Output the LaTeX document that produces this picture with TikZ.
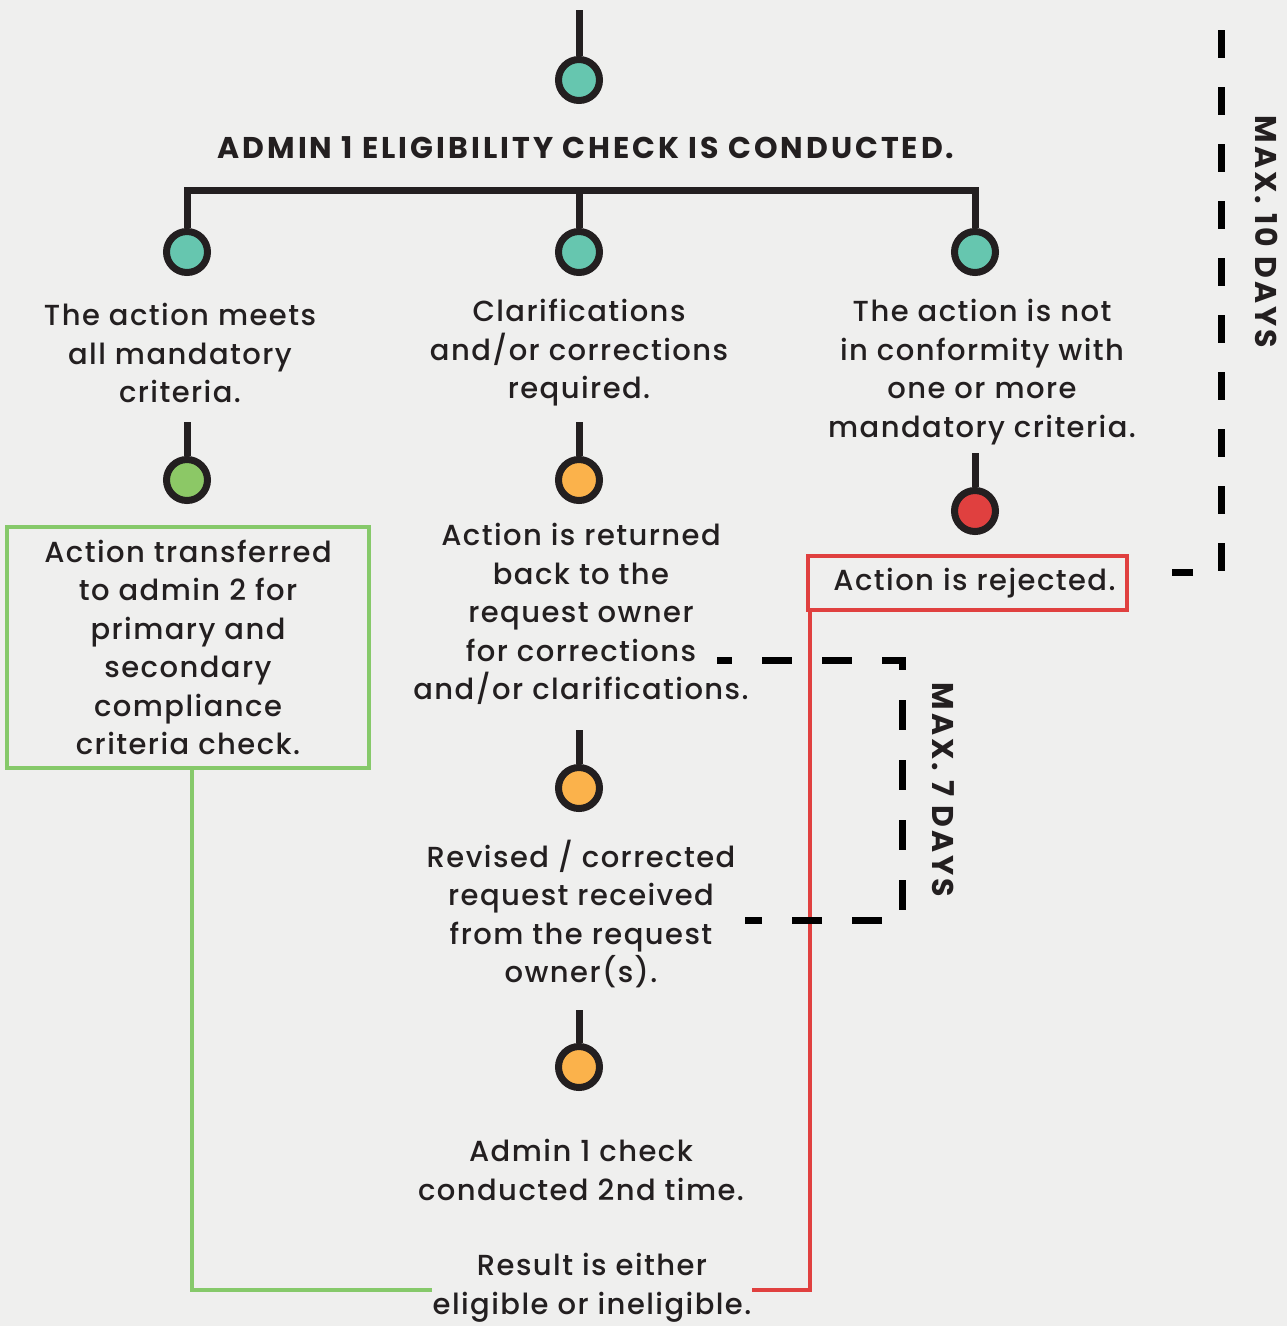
\documentclass[tikz,border=0pt]{standalone}
\usepackage{fontspec}
\IfFontExistsTF{Poppins Medium}{%
  \setmainfont{Poppins}[UprightFont=* Medium,BoldFont=* Bold,LetterSpace=5]%
  \newfontfamily\headfont{Poppins}[UprightFont=* Bold,LetterSpace=10]%
}{%
  \setmainfont{Poppins}[LetterSpace=5]%
  \newfontfamily\headfont{Poppins}[UprightFont=* Bold,LetterSpace=10]%
}
\definecolor{ink}{HTML}{231F20}
\definecolor{paper}{HTML}{EFEFEE}
\definecolor{teal}{HTML}{66C6AF}
\definecolor{leaf}{HTML}{8CC866}
\definecolor{amber}{HTML}{FBB24B}
\definecolor{alert}{HTML}{E0403F}
\definecolor{gline}{HTML}{86C96A}
\begin{document}
\begin{tikzpicture}[x=1pt,y=-1pt,
  dot/.style={circle,draw=ink,line width=7pt,minimum size=41pt,inner sep=0pt},
  stem/.style={draw=ink,line width=7pt},
  body/.style={align=center,inner sep=0pt,text=ink,font=\fontsize{29}{38.5}\selectfont},
  head/.style={inner sep=0pt,text=ink,font=\fontsize{30}{34}\selectfont\headfont},
  dashline/.style={draw=black,line width=7pt,dash pattern=on 30pt off 30pt},
  gbox/.style={draw=gline,line width=4pt,minimum width=362pt,minimum height=241pt,inner sep=0pt},
  rbox/.style={draw=alert,line width=4pt,minimum width=319pt,minimum height=54pt,inner sep=0pt}]
\fill[paper] (0,0) rectangle (1287,1326);
\useasboundingbox (0,0) rectangle (1287,1326);
% top
\coordinate (top) at (579,10);
\node[dot,fill=teal] (c0) at (579,80) {};
\draw[stem] (top) -- (c0);
\node[head] (h) at (586,148) {ADMIN 1 ELIGIBILITY CHECK IS CONDUCTED.};
% bar
\node[dot,fill=teal] (c1) at (187,252) {};
\node[dot,fill=teal] (c2) at (579,252) {};
\node[dot,fill=teal] (c3) at (975,252) {};
\coordinate (bl) at (187,190);
\coordinate (bm) at (579,190);
\coordinate (br) at (975,190);
\draw[stem] (c1) -- (bl) -- (br) -- (c3);
\draw[stem] (bm) -- (c2);
% branch texts
\node[body] (t1) at (180,353) {The action meets\\all mandatory\\criteria.};
\node[body] (t2) at (579,353) {Clarifications\\and/or corrections\\required.};
\node[body] (t3) at (982,372) {The action is not\\in conformity with\\one or more\\mandatory criteria.};
% second level dots
\coordinate (s1) at (187,422);
\node[dot,fill=leaf] (g1) at (187,480) {};
\draw[stem] (s1) -- (g1);
\coordinate (s2) at (579,422);
\node[dot,fill=amber] (o1) at (579,480) {};
\draw[stem] (s2) -- (o1);
\coordinate (s3) at (975,453);
\node[dot,fill=alert] (r1) at (975,511) {};
\draw[stem] (s3) -- (r1);
% green box
\node[gbox,body] (gb) at (188,647.5) {Action transferred\\to admin 2 for\\primary and\\secondary\\compliance\\criteria check.};
% middle text
\node[body] (t4) at (581,614) {Action is returned\\back to the\\request owner\\for corrections\\and/or clarifications.};
% red box
\node[rbox,body] (rb) at (967.5,583) {\hspace{14pt}Action is rejected.};
% middle column continued
\coordinate (s4) at (579,730);
\node[dot,fill=amber] (o2) at (579,788) {};
\draw[stem] (s4) -- (o2);
\node[body] (t5) at (581,914) {Revised / corrected\\request received\\from the request\\owner(s).};
\coordinate (s5) at (579,1010);
\node[dot,fill=amber] (o3) at (579,1067) {};
\draw[stem] (s5) -- (o3);
\node[body] (t6) at (581,1170) {Admin 1 check\\conducted 2nd time.};
\node[body] (t7) at (592,1288) {Result is either\\eligible or ineligible.};
% result lines
\coordinate (gcorner) at (192,1290);
\draw[gline,line width=4pt] (gb.south west -| gcorner) -- (gcorner) -- (gcorner -| t7.west);
\coordinate (rcorner) at (810,1290);
\draw[alert,line width=4pt] (rb.south west -| rcorner) -- (rcorner) -- (rcorner -| t7.east);
% dashed brackets
\coordinate (d7a) at (717,660);
\coordinate (d7b) at (902,660);
\coordinate (d7c) at (902,920);
\coordinate (d7d) at (745,920);
\draw[dashline,dash phase=15pt] (d7a) -- (d7b) -- (d7c) -- (d7d);
\node[head,rotate=-90] (m7) at (943,790) {MAX. 7 DAYS};
\coordinate (d10a) at (1221,30);
\coordinate (d10b) at (1221,572);
\coordinate (d10c) at (1172,572);
\draw[dashline,dash pattern=on 28pt off 29pt] (d10a) -- (d10b) -- (d10c);
\node[head,rotate=-90] (m10) at (1267,232) {MAX. 10 DAYS};
\end{tikzpicture}
\end{document}
